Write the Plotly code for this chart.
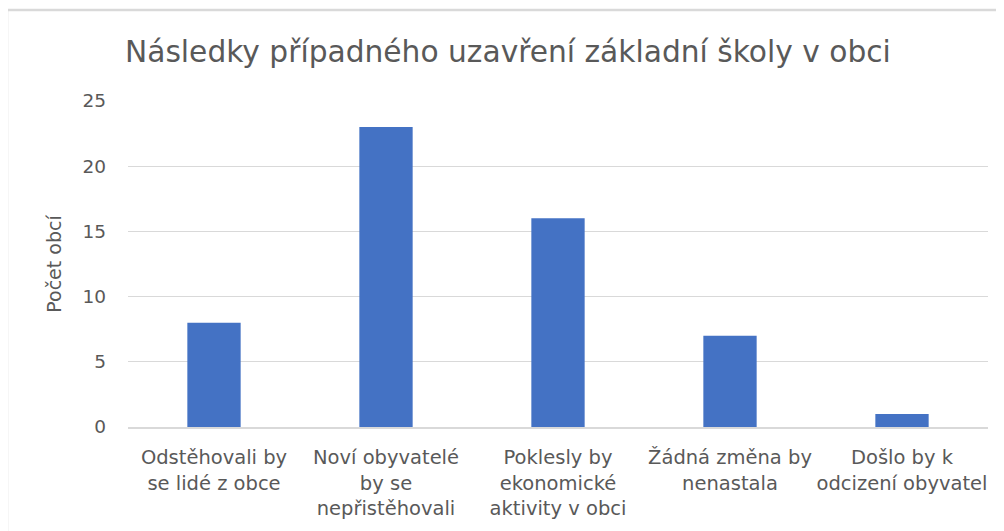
import plotly.graph_objects as go

categories = [
    "Odstěhovali by<br>se lidé z obce",
    "Noví obyvatelé<br>by se<br>nepřistěhovali",
    "Poklesly by<br>ekonomické<br>aktivity v obci",
    "Žádná změna by<br>nenastala",
    "Došlo by k<br>odcizení obyvatel",
]
values = [8, 23, 16, 7, 1]
y_ticks = [0, 5, 10, 15, 20, 25]

title_text = "Následky případného uzavření základní školy v obci"
y_title = "Počet obcí"

FONT = "DejaVu Sans"
GRAY = "#595959"

fig = go.Figure(go.Bar(x=categories, y=values, marker_color="#4472C4", marker_line_width=0))

OFF = 8  # page body margin
W, H = 1004, 531
L, T = 128 - OFF, 101 - OFF
pw, ph = 860, 326
R, B = W - L - pw, H - T - ph

fig.update_layout(
    width=W, height=H,
    margin=dict(l=L, r=R, t=T, b=B),
    paper_bgcolor="white", plot_bgcolor="white",
    bargap=0.69,
    showlegend=False,
    font=dict(family=FONT, color=GRAY, size=17),
    title=dict(text=title_text, x=(125 - OFF) / W, xanchor="left", y=1 - (52 - OFF) / H, yanchor="middle",
               font=dict(family=FONT, size=29.7, color=GRAY)),
    xaxis=dict(showgrid=False, showline=True, linecolor="#d9d9d9", linewidth=1.5,
               ticks="", tickfont=dict(size=19.5, color=GRAY), ticklabelstandoff=12),
    yaxis=dict(range=[0, 25], tickvals=y_ticks, showgrid=True, gridcolor="#d9d9d9", gridwidth=1,
               zeroline=False, showline=False, ticks="", tickfont=dict(size=18.5, color=GRAY),
               ticklabelstandoff=21,
               title=dict(text=y_title, font=dict(size=19, color=GRAY), standoff=15)),
    shapes=[dict(type="rect", xref="paper", yref="paper",
                 x0=(7 - OFF - L) / pw, x1=(W + 30 - L) / pw,
                 y0=-(B + 30) / ph, y1=(H - (10 - OFF) - B) / ph,
                 line=dict(color="#d9d9d9", width=2.5), fillcolor="rgba(0,0,0,0)", layer="below")],
)

fig.write_html("out.html")
